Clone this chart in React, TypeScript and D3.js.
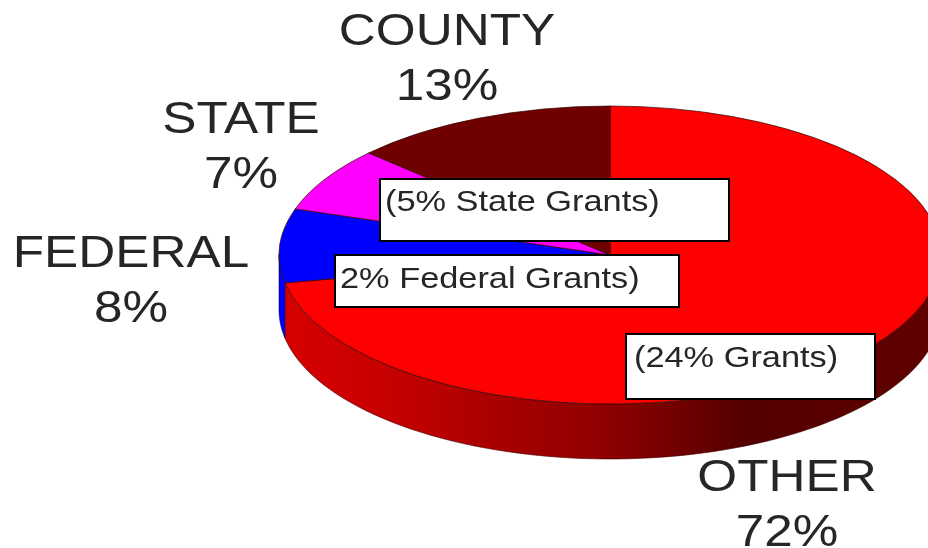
import React from "react";
import * as d3 from "d3";

const categories = ["OTHER", "FEDERAL", "STATE", "COUNTY"];
const shares = [72, 8, 7, 13];
const colors = ["#ff0000", "#0000ff", "#ff00ff", "#700000"];
const notes = ["(24% Grants)", "2% Federal Grants)", "(5% State Grants)"];

const W = 928, H = 548;
const CX = 610, CY = 255, RX = 331, RY = 149, DEPTH = 55;
const FONT = "'Liberation Sans', Arial, sans-serif";

const labelPos: Record<string, [number, number, number]> = {
  OTHER: [787, 491, 546],
  FEDERAL: [131, 267, 322],
  STATE: [241, 133, 188],
  COUNTY: [447, 45, 100],
};
const boxes = [
  { x: 626, y: 334, w: 249, h: 65, tx: 634, ty: 367 },
  { x: 335, y: 255, w: 344, h: 52, tx: 340, ty: 288 },
  { x: 380, y: 179, w: 349, h: 62, tx: 385, ty: 211 },
];
const wallStops: [number, string][] = [
  [279, "#d80000"], [400, "#c40000"], [500, "#a80000"], [600, "#900000"],
  [700, "#680000"], [745, "#540000"], [870, "#5a0000"], [928, "#600000"],
];

export default function App() {
  const arcs = d3.pie<number>().sort(null).value((d) => d)(shares);
  const arc = d3.arc<d3.PieArcDatum<number>>().innerRadius(0).outerRadius(1);
  const wall = (a0: number, a1: number) => {
    const n = 80;
    const angles = d3.range(n + 1).map((i) => a0 + ((a1 - a0) * i) / n);
    return d3
      .area<number>()
      .x((a) => CX + RX * Math.sin(a))
      .y0((a) => CY - RY * Math.cos(a))
      .y1((a) => CY - RY * Math.cos(a) + DEPTH)(angles) as string;
  };
  const half = Math.PI / 2;
  const red = arcs[0], blue = arcs[1];
  return (
    <svg width={W} height={H} viewBox={`0 0 ${W} ${H}`}
      style={{ position: "absolute", left: 0, top: 0, background: "#fff" }}>
      <defs>
        <linearGradient id="wall" gradientUnits="userSpaceOnUse" x1={279} x2={928} y1={0} y2={0}>
          {wallStops.map(([x, c]) => (
            <stop key={x} offset={(x - 279) / (928 - 279)} stopColor={c} />
          ))}
        </linearGradient>
        <filter id="soft" x="-5%" y="-5%" width="110%" height="110%">
          <feGaussianBlur stdDeviation="0.7" />
        </filter>
      </defs>
      <g filter="url(#soft)">
        <path d={wall(half, red.endAngle)} fill="url(#wall)" stroke="#400000" strokeWidth={0.6} />
        <path d={wall(blue.startAngle, 3 * half)} fill={colors[1]} stroke="#000060" strokeWidth={0.6} />
        <g transform={`translate(${CX},${CY}) scale(${RX},${RY})`}>
          {arcs.map((a, i) => (
            <path key={categories[i]} d={arc(a) as string} fill={colors[i]}
              stroke="#300000" strokeWidth={0.7} vectorEffect="non-scaling-stroke" />
          ))}
        </g>
        {boxes.map((b, i) => (
          <g key={notes[i]}>
            <rect x={b.x} y={b.y} width={b.w} height={b.h} fill="#fff" stroke="#000" strokeWidth={2} />
            <text transform={`translate(${b.tx},${b.ty}) scale(1.145,1)`} fontFamily={FONT}
              fontSize={30} fill="#262626">{notes[i]}</text>
          </g>
        ))}
        {categories.map((c, i) => {
          const [x, y1, y2] = labelPos[c];
          return (
            <g key={c} fontFamily={FONT} fontSize={44} fill="#262626" textAnchor="middle">
              <text transform={`translate(${x},${y1}) scale(1.165,1)`}>{c}</text>
              <text transform={`translate(${x},${y2}) scale(1.165,1)`}>{shares[i]}%</text>
            </g>
          );
        })}
      </g>
    </svg>
  );
}
